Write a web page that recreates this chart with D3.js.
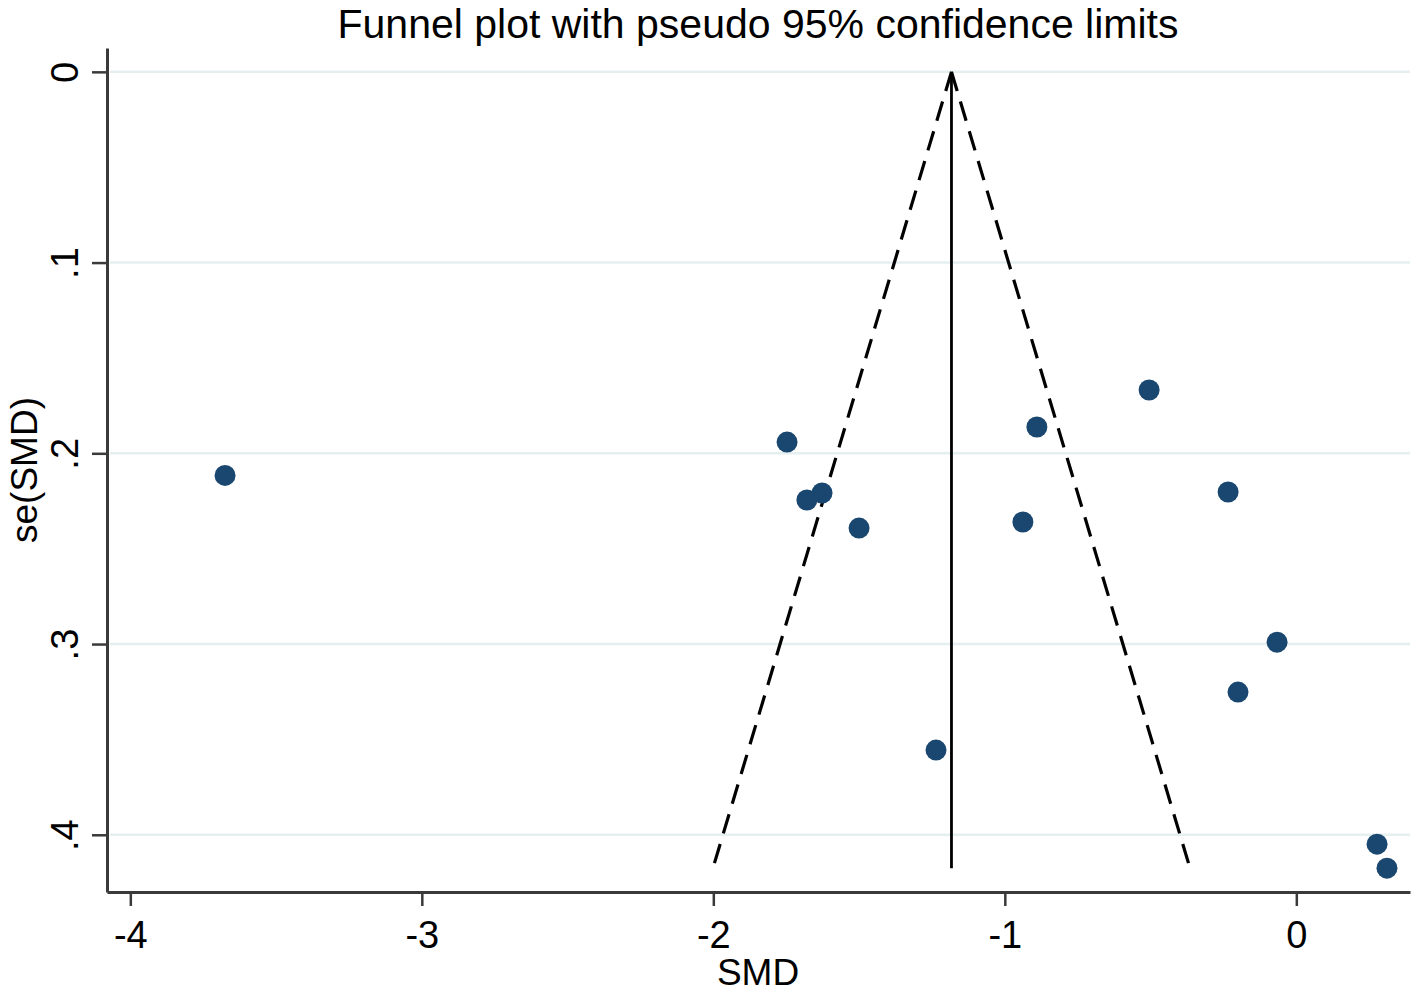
<!DOCTYPE html>
<html>
<head>
<meta charset="utf-8">
<script src="https://cdn.jsdelivr.net/npm/d3@7"></script>
<style>
  body { margin: 0; background: #fff; }
  text { font-family: "Liberation Sans", Arial, sans-serif; fill: #000; }
</style>
</head>
<body>
<div id="funnel-container"></div>
<script>
// study estimates
const smd   = [-3.675, -1.747, -1.679, -1.627, -1.500, -1.236, -0.938, -0.890, -0.505, -0.234, -0.066, -0.200, 0.277, 0.311];
const seSmd = [0.2116, 0.1941, 0.2245, 0.2208, 0.2392, 0.3556, 0.2360, 0.1862, 0.1668, 0.2203, 0.2990, 0.3252, 0.4049, 0.4175];
const pooledSmd = -1.183;

const xTicks = [-4, -3, -2, -1, 0];
const xTickLabels = ["-4", "-3", "-2", "-1", "0"];
const yTicks = [0, 0.1, 0.2, 0.3, 0.4];
const yTickLabels = ["0", ".1", ".2", ".3", ".4"];

const width = 1417;
const height = 992;

function drawChart() {
  d3.select("#funnel-container").select("svg").remove();

  const svg = d3
    .select("#funnel-container")
    .append("svg")
    .attr("width", width)
    .attr("height", height);

  const x = d3.scaleLinear().domain([-4.08, 0.39]).range([107, 1410]);
  const y = d3.scaleLinear().domain([-0.0125, 0.43]).range([48, 892]);

  // gridlines
  svg.append("g")
    .selectAll("line")
    .data(yTicks)
    .enter()
    .append("line")
    .attr("x1", x.range()[0] + 3)
    .attr("x2", x.range()[1])
    .attr("y1", d => y(d))
    .attr("y2", d => y(d))
    .style("stroke", "#e6eff0")
    .style("stroke-width", 2.5);

  // funnel: pseudo 95% limits down to the largest se
  const seMax = d3.max(seSmd);
  const funnel = [
    [[pooledSmd, 0], [pooledSmd - 1.96 * seMax, seMax]],
    [[pooledSmd, 0], [pooledSmd + 1.96 * seMax, seMax]]
  ];
  const line = d3.line().x(d => x(d[0])).y(d => y(d[1]));

  svg.append("g")
    .selectAll("path")
    .data(funnel)
    .enter()
    .append("path")
    .attr("d", line)
    .style("fill", "none")
    .style("stroke", "#000")
    .style("stroke-width", 3.2)
    .style("stroke-dasharray", "20,11");

  svg.append("path")
    .attr("d", line([[pooledSmd, 0], [pooledSmd, seMax]]))
    .style("fill", "none")
    .style("stroke", "#000")
    .style("stroke-width", 2.8);

  // study markers
  svg.append("g")
    .selectAll("circle")
    .data(smd.map((d, i) => [d, seSmd[i]]))
    .enter()
    .append("circle")
    .attr("cx", d => x(d[0]))
    .attr("cy", d => y(d[1]))
    .attr("r", 10.5)
    .style("fill", "#1a476f");

  // x axis
  const xAxis = d3.axisBottom(x)
    .tickValues(xTicks)
    .tickFormat((d, i) => xTickLabels[i])
    .tickSize(14)
    .tickPadding(15)
    .tickSizeOuter(0);

  const gx = svg.append("g")
    .attr("transform", "translate(0," + y.range()[1] + ")")
    .call(xAxis);
  gx.select(".domain").style("stroke", "#3a3a3a").style("stroke-width", 3);
  gx.selectAll(".tick line").style("stroke", "#3a3a3a").style("stroke-width", 2.5);
  gx.selectAll(".tick text")
    .style("font-family", "'Liberation Sans', Arial, sans-serif")
    .style("font-size", "38px")
    .style("fill", "#000");

  // y axis with rotated labels
  const yAxis = d3.axisLeft(y)
    .tickValues(yTicks)
    .tickFormat((d, i) => yTickLabels[i])
    .tickSize(15)
    .tickSizeOuter(0);

  const gy = svg.append("g")
    .attr("transform", "translate(" + x.range()[0] + ",0)")
    .call(yAxis);
  gy.select(".domain").style("stroke", "#3a3a3a").style("stroke-width", 3);
  gy.selectAll(".tick line").style("stroke", "#3a3a3a").style("stroke-width", 2.5);
  gy.selectAll(".tick text")
    .attr("x", 0)
    .attr("dy", null)
    .attr("text-anchor", "middle")
    .attr("transform", "translate(-29,0) rotate(-90)")
    .style("font-family", "'Liberation Sans', Arial, sans-serif")
    .style("font-size", "38px")
    .style("fill", "#000");

  // titles
  svg.append("text")
    .attr("x", 758)
    .attr("y", 37.5)
    .attr("text-anchor", "middle")
    .style("font-size", "41px")
    .text("Funnel plot with pseudo 95% confidence limits");

  svg.append("text")
    .attr("x", 758)
    .attr("y", 985)
    .attr("text-anchor", "middle")
    .style("font-size", "37px")
    .text("SMD");

  svg.append("text")
    .attr("text-anchor", "middle")
    .attr("transform", "translate(37,470) rotate(-90)")
    .style("font-size", "37px")
    .text("se(SMD)");
}

drawChart();
</script>
</body>
</html>
